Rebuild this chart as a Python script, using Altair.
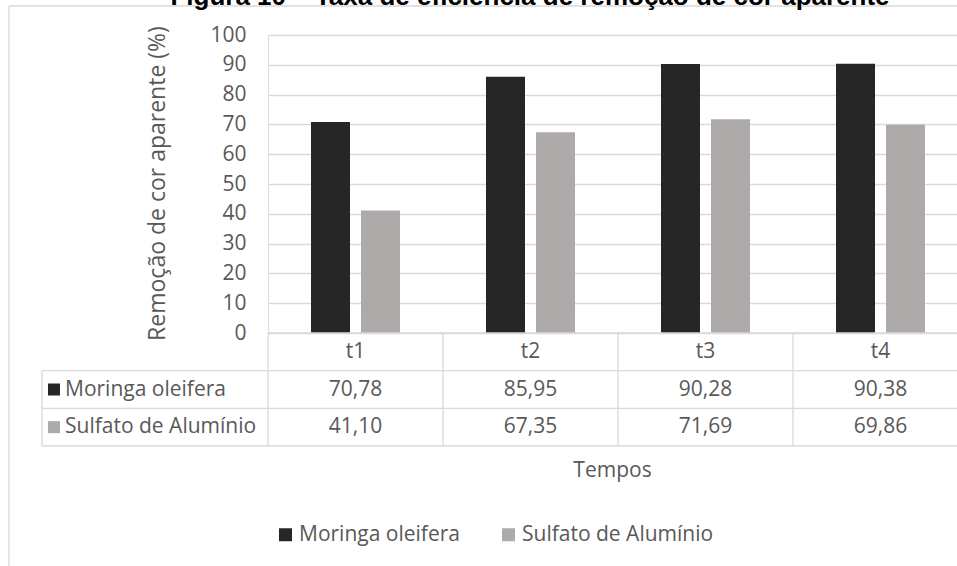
import altair as alt
import pandas as pd

# ---- data ----
categories = ["t1", "t2", "t3", "t4"]
series = ["Moringa oleifera", "Sulfato de Alumínio"]
moringa = [70.78, 85.95, 90.28, 90.38]
sulfato = [41.10, 67.35, 71.69, 69.86]
colors = ["#262626", "#AEAAAA"]
y_ticks = [0, 10, 20, 30, 40, 50, 60, 70, 80, 90, 100]
title_text = ["Figura 10 – Taxa de eficiência de remoção de cor aparente"]
y_title = "Remoção de cor aparente (%)"
x_title = "Tempos"

rows = []
for s, vals in zip(series, [moringa, sulfato]):
    for c, v in zip(categories, vals):
        rows.append({"tempo": c, "serie": s, "valor": v,
                     "rotulo": f"{v:.2f}".replace(".", ",")})
df = pd.DataFrame(rows)
hdr = pd.DataFrame({"tempo": categories, "row": ["header"] * len(categories)})
lab = pd.DataFrame({"serie": series})
one = pd.DataFrame({"k": [0]})
ttl = pd.DataFrame({"t": title_text})

FONT = "Open Sans"
FS = 21
TXT = "#595959"
GRID = "#D9D9D9"
W, H = 689, 298
LEFT, TOP = 268, 35

xscale = alt.Scale(domain=categories, range=[0, 700], paddingInner=0, paddingOuter=0)
xaxis = alt.Axis(labels=False, ticks=False, domain=False, grid=False,
                 title=x_title, titleFont=FONT, titleFontSize=FS, titleColor=TXT,
                 titleFontWeight="normal", titleX=344, titleY=137,
                 titleBaseline="middle", titleAlign="center")
cscale = alt.Scale(domain=series, range=colors)
legend = alt.Legend(orient="none", legendX=7, legendY=489, direction="horizontal",
                    title=None, symbolType="square", symbolSize=169,
                    symbolStrokeWidth=0, labelFont=FONT, labelFontSize=FS,
                    labelColor=TXT, labelOffset=3, columnPadding=38, padding=0,
                    labelLimit=0)
color = alt.Color("serie:N", scale=cscale, legend=legend)

bars = alt.Chart(df).mark_bar().encode(
    x=alt.X("tempo:N", scale=xscale, axis=xaxis),
    xOffset=alt.XOffset("serie:N", scale=alt.Scale(domain=series, paddingInner=0.22,
                                                   paddingOuter=0.86)),
    y=alt.Y("valor:Q", scale=alt.Scale(domain=[0, 100], nice=False),
            axis=alt.Axis(values=y_ticks, grid=True, gridColor=GRID, gridWidth=1.3,
                          domain=False, ticks=False, labelFont=FONT,
                          labelFontSize=FS, labelColor=TXT, labelPadding=22,
                          title=y_title, titleFont=FONT, titleFontSize=23,
                          titleColor=TXT, titleFontWeight="normal",
                          titleAngle=270, titleX=-111, titleY=148,
                          titleBaseline="middle", titleAlign="center")),
    color=color,
)

rowscale = alt.Scale(domain=["header"] + series, range=[298, 411],
                     paddingInner=0, paddingOuter=0)

header_txt = alt.Chart(hdr).mark_text(font=FONT, fontSize=FS, color=TXT).encode(
    x=alt.X("tempo:N", scale=xscale, axis=xaxis),
    y=alt.Y("row:N", scale=rowscale, axis=None),
    text="tempo:N",
)
value_txt = alt.Chart(df).mark_text(font=FONT, fontSize=FS, color=TXT).encode(
    x=alt.X("tempo:N", scale=xscale, axis=xaxis),
    y=alt.Y("serie:N", scale=rowscale, axis=None),
    text="rotulo:N",
)
row_lab = alt.Chart(lab).mark_text(font=FONT, fontSize=FS, color=TXT, align="left").encode(
    x=alt.value(65 - LEFT),
    y=alt.Y("serie:N", scale=rowscale, axis=None),
    text="serie:N",
)
row_sq = alt.Chart(lab).mark_square(size=144, opacity=1).encode(
    x=alt.value(54 - LEFT),
    y=alt.Y("serie:N", scale=rowscale, axis=None),
    color=color,
)
vlines = alt.Chart(hdr).mark_rule(color=GRID, strokeWidth=1.3).encode(
    x=alt.X("tempo:N", scale=xscale, axis=xaxis, bandPosition=0),
    y=alt.value(298), y2=alt.value(411),
)
table = alt.layer(vlines, header_txt, value_txt, row_sq, row_lab)


def hline(y, x1, x2):
    return alt.Chart(one).mark_rule(color=GRID, strokeWidth=1.3).encode(
        x=alt.value(x1), x2=alt.value(x2), y=alt.value(y))


def vline(x, y1, y2):
    return alt.Chart(one).mark_rule(color=GRID, strokeWidth=1.3).encode(
        y=alt.value(y1), y2=alt.value(y2), x=alt.value(x))


deco = [
    hline(298, 0, W),
    hline(335.67, 42 - LEFT, W),
    hline(373.33, 42 - LEFT, W),
    hline(411, 42 - LEFT, W),
    vline(42 - LEFT, 335.67, 411),
    hline(6 - TOP, 9 - LEFT, W),
    vline(9 - LEFT, 6 - TOP, 566 - TOP),
]

title = alt.Chart(ttl).mark_text(font="Liberation Sans", fontWeight="bold", fontSize=26,
                                 color="#000000", baseline="alphabetic").encode(
    x=alt.value(530 - LEFT), y=alt.value(5 - TOP), text="t:N")

chart = alt.layer(bars, table, *deco, title).resolve_scale(y="independent").properties(
    width=W, height=H,
    autosize=alt.AutoSizeParams(type="none"),
    padding={"left": LEFT, "top": TOP, "right": 0, "bottom": 566 - TOP - H},
).configure_view(strokeWidth=0).configure(background="white")

chart.save("out.html", embed_options={"renderer": "svg", "actions": False})
